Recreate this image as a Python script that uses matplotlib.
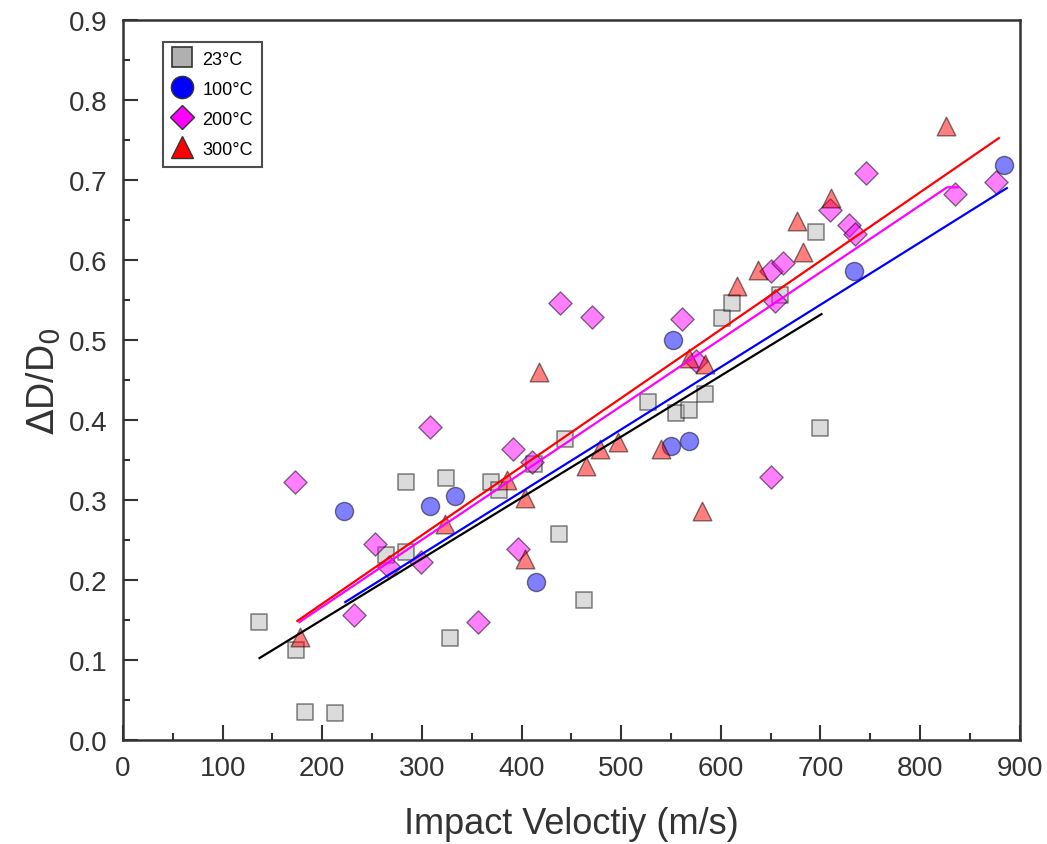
import matplotlib.pyplot as plt
from matplotlib.lines import Line2D
from matplotlib.ticker import MultipleLocator

plt.rcParams['font.family'] = ['Liberation Sans', 'DejaVu Sans']

# 23 C
x23 = [136, 174, 183, 213, 264, 284, 284, 324, 328, 369, 377, 412, 438, 444,
       463, 527, 555, 568, 584, 601, 611, 659, 695, 699]
y23 = [0.148, 0.113, 0.035, 0.034, 0.231, 0.235, 0.323, 0.328, 0.128, 0.322,
       0.313, 0.345, 0.258, 0.376, 0.175, 0.423, 0.409, 0.4125, 0.4325, 0.528,
       0.546, 0.556, 0.635, 0.390]

# 100 C
x100 = [222, 308, 333, 414, 550, 552, 568, 734, 884]
y100 = [0.286, 0.293, 0.305, 0.197, 0.367, 0.5005, 0.374, 0.587, 0.719]

# 200 C
x200 = [173, 232, 253, 267, 299, 308, 356, 391, 396, 410, 439, 471, 561, 575,
        650, 654, 650, 662, 710, 729, 735, 746, 835, 876]
y200 = [0.3225, 0.156, 0.245, 0.216, 0.222, 0.391, 0.147, 0.364, 0.239, 0.348,
        0.547, 0.529, 0.526, 0.474, 0.329, 0.549, 0.587, 0.596, 0.6625, 0.644,
        0.6325, 0.709, 0.6825, 0.698]

# 300 C
x300 = [178, 323, 385, 403, 403, 417, 465, 479, 497, 540, 568, 581, 584, 616,
        637, 676, 682, 711, 826]
y300 = [0.129, 0.270, 0.325, 0.303, 0.226, 0.460, 0.343, 0.364, 0.372, 0.364,
        0.478, 0.286, 0.470, 0.568, 0.5875, 0.649, 0.610, 0.6775, 0.768]

# fitted lines
fit23_x, fit23_y = [137, 701], [0.1025, 0.5325]
fit100_x, fit100_y = [223, 887], [0.1725, 0.690]
fit200_x, fit200_y = [177, 827, 838], [0.1475, 0.691, 0.691]
fit300_x, fit300_y = [175, 879], [0.149, 0.7525]

fig = plt.figure(figsize=(10.47, 8.45), dpi=100)
ax = fig.add_axes([0.1175, 0.123, 0.8565, 0.852])

ax.scatter(x23, y23, marker='s', s=140, color='#b0b0b0', edgecolors='black',
           linewidths=1.2, alpha=0.45, zorder=2)
ax.scatter(x100, y100, marker='o', s=170, color='#0000ff', edgecolors='black',
           linewidths=1.0, alpha=0.5, zorder=2)
ax.scatter(x200, y200, marker='D', s=140, color='#ff00ff', edgecolors='black',
           linewidths=1.0, alpha=0.5, zorder=2)
ax.scatter(x300, y300, marker='^', s=180, color='#ff0000', edgecolors='black',
           linewidths=1.0, alpha=0.5, zorder=2)

ax.plot(fit23_x, fit23_y, color='black', lw=1.6, zorder=3)
ax.plot(fit100_x, fit100_y, color='blue', lw=1.6, zorder=3)
ax.plot(fit200_x, fit200_y, color='magenta', lw=1.6, zorder=3)
ax.plot(fit300_x, fit300_y, color='red', lw=1.6, zorder=3)

ax.set_xlim(0, 900)
ax.set_ylim(0, 0.9)
ax.xaxis.set_major_locator(MultipleLocator(100))
ax.xaxis.set_minor_locator(MultipleLocator(50))
ax.yaxis.set_major_locator(MultipleLocator(0.1))
ax.yaxis.set_minor_locator(MultipleLocator(0.05))
ax.yaxis.set_major_formatter(plt.FormatStrFormatter('%.1f'))
ax.tick_params(which='both', direction='in', width=1.5, colors='#333333',
               labelcolor='#333333')
ax.tick_params(which='major', length=11, labelsize=20, pad=11)
ax.tick_params(which='minor', length=5)
for sp in ax.spines.values():
    sp.set_linewidth(1.8)
    sp.set_color('#333333')

ax.set_xlabel('Impact Veloctiy (m/s)', fontsize=26, color='#333333', labelpad=18)
ax.set_ylabel(r'$\Delta$D/D$_0$', fontsize=27, color='#333333', labelpad=5)

handles = [
    Line2D([], [], ls='none', marker='s', ms=15, mfc='#b0b0b0', mec='#333333', mew=1.2),
    Line2D([], [], ls='none', marker='o', ms=16, mfc='#0000ff', mec='#333333', mew=1.0),
    Line2D([], [], ls='none', marker='D', ms=12, mfc='#ff00ff', mec='#333333', mew=1.0),
    Line2D([], [], ls='none', marker='^', ms=16, mfc='#ff0000', mec='#333333', mew=1.0),
]
labels = ['23°C', '100°C', '200°C', '300°C']
leg = ax.legend(handles, labels, loc='upper left', bbox_to_anchor=(0.045, 0.97),
                fontsize=13, frameon=True, fancybox=False, handletextpad=0.55,
                borderpad=0.5, labelspacing=0.72, handlelength=1.1,
                borderaxespad=0)
leg.get_frame().set_edgecolor('#222222')
leg.get_frame().set_linewidth(1.5)

plt.savefig('out.png')
